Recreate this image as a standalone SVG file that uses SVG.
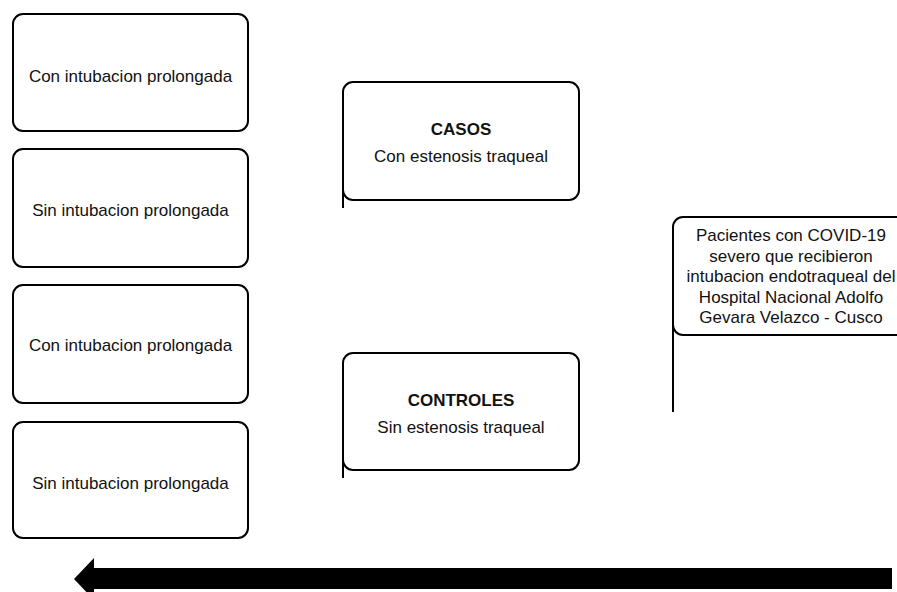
<svg xmlns="http://www.w3.org/2000/svg" width="897" height="592" viewBox="0 0 897 592">
<style>
.box{fill:#fff;stroke:#000;stroke-width:2}
.ln{stroke:#000;stroke-width:2;fill:none}
text{font-family:"Liberation Sans",Arial,sans-serif;font-size:17px;fill:#111;text-anchor:middle}
.b{font-weight:bold}
</style>
<rect width="897" height="592" fill="#fff"/>
<g id="n1"><rect class="box" x="13" y="14" width="235" height="117" rx="10"/><text x="130.5" y="82">Con intubacion prolongada</text></g>
<g id="n2"><rect class="box" x="13" y="149" width="235" height="118" rx="10"/><text x="130.5" y="216">Sin intubacion prolongada</text></g>
<g id="n3"><rect class="box" x="13" y="285" width="235" height="118" rx="10"/><text x="130.5" y="351">Con intubacion prolongada</text></g>
<g id="n4"><rect class="box" x="13" y="422" width="235" height="116" rx="10"/><text x="130.5" y="489">Sin intubacion prolongada</text></g>
<g id="casos"><rect class="box" x="343" y="82" width="236" height="118" rx="10"/><line class="ln" x1="343" y1="190" x2="343" y2="208"/><text class="b" x="461" y="135">CASOS</text><text x="461" y="162">Con estenosis traqueal</text></g>
<g id="controles"><rect class="box" x="343" y="353" width="236" height="117" rx="10"/><line class="ln" x1="343" y1="460" x2="343" y2="478"/><text class="b" x="461" y="406">CONTROLES</text><text x="461" y="433">Sin estenosis traqueal</text></g>
<g id="pacientes"><rect class="box" x="673" y="217" width="240" height="118" rx="10"/><line class="ln" x1="673" y1="325" x2="673" y2="412"/>
<text x="791" y="241">Pacientes con COVID-19</text>
<text x="791" y="261.5">severo que recibieron</text>
<text x="791" y="282">intubacion endotraqueal del</text>
<text x="791" y="302.5">Hospital Nacional Adolfo</text>
<text x="791" y="323">Gevara Velazco - Cusco</text></g>
<g id="connectors"><polygon points="74,579 94,558 94,568 892,568 892,589 94,589 94,600" fill="#000"/></g>
</svg>
